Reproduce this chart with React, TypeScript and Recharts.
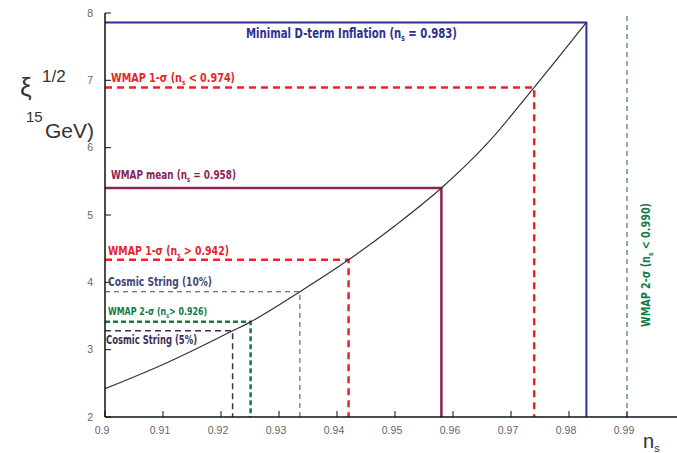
import React from 'react';
import { Line, LineChart, XAxis, YAxis } from 'recharts';

// n_s vs xi^(1/2) curve
const curveNs = [0.9, 0.91, 0.922, 0.9251, 0.9336, 0.942, 0.95, 0.958, 0.966, 0.974, 0.983];
const curveXi = [2.42, 2.78, 3.28, 3.413, 3.86, 4.334, 4.84, 5.4, 6.07, 6.895, 7.86];

// bounds: corner where each bound meets the curve
const boundNames = ['dterm', 'wmap1hi', 'mean', 'wmap1lo', 'cs10', 'wmap2lo', 'cs5'];
const boundNs = [0.983, 0.974, 0.958, 0.942, 0.9336, 0.9251, 0.922];
const boundXi = [7.86, 6.895, 5.4, 4.334, 3.86, 3.413, 3.28];

const upperBoundNs = 0.99;

const xTicks = [0.9, 0.91, 0.92, 0.93, 0.94, 0.95, 0.96, 0.97, 0.98, 0.99];
const yTicks = [2, 3, 4, 5, 6, 7, 8];

const boundStyle = {
  dterm: { stroke: '#2e3192', width: 2, dash: undefined },
  wmap1hi: { stroke: '#e8242b', width: 2.5, dash: '7 5' },
  mean: { stroke: '#8b2556', width: 2.5, dash: undefined },
  wmap1lo: { stroke: '#e8242b', width: 2.5, dash: '7 5' },
  cs10: { stroke: '#45457a', width: 1, dash: '5 4' },
  wmap2lo: { stroke: '#127a48', width: 2.5, dash: '5 3' },
  cs5: { stroke: '#3d2e5a', width: 1.5, dash: '6 4' },
};

const curveData = curveNs.map((x, i) => ({ x, y: curveXi[i] }));
const boundData = boundNames.map((name, i) => ({
  name,
  data: [
    { x: 0.9, y: boundXi[i] },
    { x: boundNs[i], y: boundXi[i] },
    { x: boundNs[i], y: 2 },
  ],
}));
const upperData = [
  { x: upperBoundNs, y: 2 },
  { x: upperBoundNs, y: 8 },
];

const labelFont = "'Liberation Sans Narrow', 'DejaVu Sans Condensed', Arial, sans-serif";

// label text with n_s subscript: before + n_s + after
const NsLabel = ({ before, after }) => (
  <>
    {before}n
    <tspan fontSize="0.6em" dy="3">s</tspan>
    <tspan dy="-3">{after}</tspan>
  </>
);

function Annotations() {
  return (
    <svg
      width={677}
      height={453}
      style={{ position: 'absolute', left: 0, top: 0, pointerEvents: 'none' }}
    >
      <g fontFamily={labelFont} fontWeight="bold">
        <text x={246} y={38} fontSize={13.5} fill="#2e3192" textLength={211} lengthAdjust="spacingAndGlyphs">
          <NsLabel before="Minimal D-term Inflation (" after=" = 0.983)" />
        </text>
        <text x={111} y={82} fontSize={12.5} fill="#e8242b" textLength={124} lengthAdjust="spacingAndGlyphs">
          <NsLabel before="WMAP 1-σ  (" after=" < 0.974)" />
        </text>
        <text x={111} y={179} fontSize={12.5} fill="#8b2556" textLength={125} lengthAdjust="spacingAndGlyphs">
          <NsLabel before="WMAP mean (" after=" = 0.958)" />
        </text>
        <text x={108} y={255} fontSize={12.5} fill="#e8242b" textLength={121} lengthAdjust="spacingAndGlyphs">
          <NsLabel before="WMAP 1-σ  (" after=" > 0.942)" />
        </text>
        <text x={108} y={286} fontSize={12} fill="#45457a" textLength={104} lengthAdjust="spacingAndGlyphs">
          Cosmic String (10%)
        </text>
        <text x={108} y={315} fontSize={11} fill="#127a48" textLength={99} lengthAdjust="spacingAndGlyphs">
          <NsLabel before="WMAP 2-σ  (" after="> 0.926)" />
        </text>
        <text x={106} y={344} fontSize={12} fill="#3d2e5a" textLength={91} lengthAdjust="spacingAndGlyphs">
          Cosmic String (5%)
        </text>
        <text
          x={0}
          y={0}
          fontSize={12}
          fill="#127a48"
          textLength={124}
          lengthAdjust="spacingAndGlyphs"
          transform="translate(650 327) rotate(-90)"
        >
          <NsLabel before="WMAP 2-σ  (" after=" < 0.990)" />
        </text>
      </g>
      <g fontFamily="'Liberation Sans', Arial, sans-serif" fill="#333">
        <text x={20} y={96} fontSize={26}>ξ</text>
        <text x={42} y={82} fontSize={17}>1/2</text>
        <text x={26} y={122} fontSize={15}>15</text>
        <text x={45} y={138} fontSize={21}>GeV)</text>
        <text x={643} y={448} fontSize={20}>
          n<tspan fontSize={11} dy={4}>s</tspan>
        </text>
      </g>
    </svg>
  );
}

const tickStyle = { fontSize: 10.5, fill: '#666', fontFamily: "'Liberation Sans', Arial, sans-serif" };

export default function App() {
  return (
    <div
      style={{
        position: 'absolute',
        left: 0,
        top: 0,
        width: 677,
        height: 453,
        overflow: 'hidden',
        background: '#fff',
      }}
    >
      <LineChart width={700} height={453} margin={{ top: 13, right: 15, bottom: 6, left: 0 }}>
        <XAxis
          type="number"
          dataKey="x"
          domain={[0.9, 1.0]}
          ticks={xTicks}
          tick={{ ...tickStyle, dx: -3 }}
          tickSize={-6}
          tickMargin={16}
          height={30}
          allowDataOverflow
          axisLine={{ stroke: '#111', strokeWidth: 1.5 }}
          tickLine={{ stroke: '#111' }}
        />
        <XAxis
          xAxisId="top"
          orientation="top"
          type="number"
          dataKey="x"
          domain={[0.9, 1.0]}
          ticks={xTicks}
          tick={false}
          tickSize={-6}
          height={0}
          allowDataOverflow
          axisLine={{ stroke: '#111', strokeWidth: 1.5 }}
          tickLine={{ stroke: '#111' }}
        />
        <YAxis
          type="number"
          domain={[2, 8]}
          ticks={yTicks}
          tick={tickStyle}
          tickSize={-6}
          tickMargin={18}
          width={105}
          allowDataOverflow
          axisLine={{ stroke: '#111', strokeWidth: 1.5 }}
          tickLine={{ stroke: '#111' }}
        />
        <YAxis
          yAxisId="right"
          orientation="right"
          type="number"
          domain={[2, 8]}
          ticks={yTicks}
          tick={false}
          tickSize={-14}
          width={0}
          axisLine={{ stroke: '#111' }}
          tickLine={{ stroke: '#ddd' }}
        />
        {boundData.map((b) => {
          const s = boundStyle[b.name];
          return (
            <Line
              key={b.name}
              data={b.data}
              dataKey="y"
              type="linear"
              stroke={s.stroke}
              strokeWidth={s.width}
              strokeDasharray={s.dash}
              dot={false}
              activeDot={false}
              isAnimationActive={false}
            />
          );
        })}
        <Line
          data={upperData}
          dataKey="y"
          type="linear"
          stroke="#1d5e3c"
          strokeWidth={1}
          strokeDasharray="5 4"
          dot={false}
          activeDot={false}
          isAnimationActive={false}
        />
        <Line
          data={curveData}
          dataKey="y"
          type="monotone"
          stroke="#333"
          strokeWidth={1.2}
          dot={false}
          activeDot={false}
          isAnimationActive={false}
        />
      </LineChart>
      <Annotations />
    </div>
  );
}
